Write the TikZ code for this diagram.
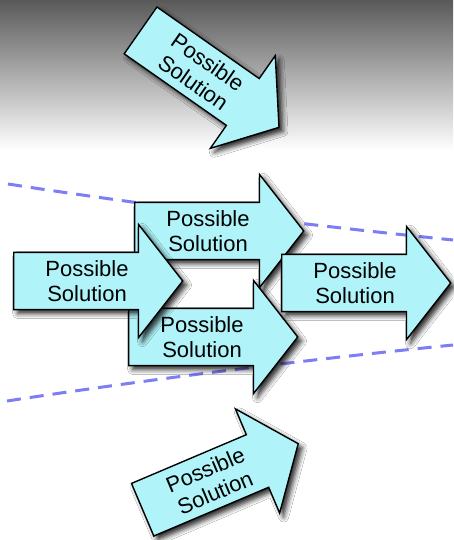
\documentclass[tikz,border=0pt]{standalone}
\usepackage{fontspec}
\setmainfont{Liberation Sans}
\usetikzlibrary{shapes.arrows,shadows.blur}
\definecolor{solfill}{RGB}{176,244,250}
\definecolor{fence}{RGB}{125,125,245}

\begin{document}
\begin{tikzpicture}[x=1pt,y=-1pt]
    \tikzstyle{solarrow}=[single arrow,draw,line width=1.4pt,fill=solfill,
      minimum height=169pt,single arrow head extend=28pt,single arrow tip angle=104,
      inner ysep=7.3pt,inner xsep=2pt,align=center,anchor=tail,
      font=\fontsize{22}{25}\selectfont,
      blur shadow={shadow xshift=4pt,shadow yshift=-4pt,shadow blur radius=5pt,shadow opacity=85}]
    \tikzstyle{fenceline}=[fence,line width=3pt,dash pattern=on 14pt off 9pt]
    \useasboundingbox (0,0) rectangle (453,540);
    \fill[white] (0,0) rectangle (453,540);
    \shade[top color=black!65,bottom color=white] (0,0) rectangle (453,150);
    \draw[fenceline] (8,184) .. controls (138,204) and (287,223) .. (453,240);
    \draw[fenceline] (7,401) .. controls (145,380) and (294,361) .. (453,345);
    \node[solarrow] (sol-up) at (134,231) {Possible\\Solution};
    \node[solarrow] (sol-low) at (128,337) {Possible\\Solution};
    \node[solarrow] (sol-right) at (281,283) {Possible\\Solution};
    \node[solarrow] (sol-left) at (13,281) {Possible\\Solution};
    \node[solarrow,rotate=-35] (sol-top) at (140,30) {Possible\\Solution};
    \node[solarrow,rotate=23] (sol-bottom) at (142,510) {Possible\\Solution};
\end{tikzpicture}
\end{document}
